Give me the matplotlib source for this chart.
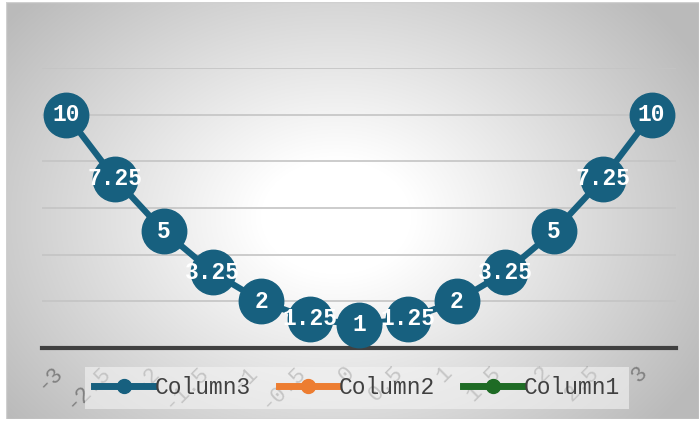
import numpy as np
import matplotlib
matplotlib.use("Agg")
import matplotlib.pyplot as plt
from matplotlib.lines import Line2D

categories = ['-3', '-2.5', '-2', '-1.5', '-1', '-0.5', '0', '0.5', '1', '1.5', '2', '2.5', '3']
column3 = [10, 7.25, 5, 3.25, 2, 1.25, 1, 1.25, 2, 3.25, 5, 7.25, 10]
series_names = ['Column3', 'Column2', 'Column1']
series_colors = ['#17607F', '#ED7D31', '#1E6B25']

plt.rcParams['axes.unicode_minus'] = False
MONO = 'Liberation Mono'

W, H = 699, 421
fig = plt.figure(figsize=(W / 100, H / 100), dpi=100)
fig.patch.set_facecolor('white')

# radial gradient background
bg = fig.add_axes([6 / W, 2 / H, 693 / W, 417 / H], zorder=-10)
bg.set_axis_off()
yy, xx = np.mgrid[0:417, 0:693]
cx, cy = 330, 215
d = np.sqrt(((xx - cx) / 420.0) ** 2 + ((yy - cy) / 320.0) ** 2)
d = np.clip(d, 0, 1)
val = 1.0 - 0.27 * np.clip((d - 0.18) / 0.82, 0, 1) ** 1.0
img = np.dstack([val, val, val])
bg.imshow(img, aspect='auto', extent=[0, 1, 0, 1], origin='upper')
bg.add_patch(plt.Rectangle((0, 0), 1, 1, transform=bg.transAxes, fill=False,
                           edgecolor='#d0d0d0', lw=1.0))

ax = fig.add_axes([42 / W, (H - 348) / H, (676 - 42) / W, (348 - 68) / H])
ax.set_facecolor('none')
x = np.arange(len(categories))
ax.set_xlim(-0.5, len(categories) - 0.5)
ax.set_ylim(0, 12)
ax.set_yticks([2, 4, 6, 8, 10, 12])
ax.yaxis.grid(True, color='#c4c4c4', lw=1.2)
ax.set_axisbelow(True)
ax.tick_params(axis='y', left=False, labelleft=False)
for s in ['left', 'right', 'top']:
    ax.spines[s].set_visible(False)
ax.spines['bottom'].set_color('#404040')
ax.spines['bottom'].set_linewidth(3)
ax.spines['bottom'].set_zorder(1)

ax.set_xticks(x)
ax.set_xticklabels(categories, rotation=45, ha='right', va='top',
                   family=MONO, fontsize=16, color='#808080')
ax.tick_params(axis='x', length=0, pad=10)

ax.plot(x, column3, color=series_colors[0], lw=4.5, marker='o', markersize=32,
        zorder=3, clip_on=False)
for xi, v in zip(x, column3):
    ax.text(xi, v, f'{v:g}', ha='center', va='center', color='white',
            family=MONO, fontweight='bold', fontsize=16.5, zorder=4)

handles = [Line2D([0], [0], color=c, lw=5, marker='o', markersize=10)
           for c in series_colors]
leg = ax.legend(handles, series_names, loc='center', ncol=3,
                bbox_to_anchor=(357 / W, (H - 388) / H), bbox_transform=fig.transFigure,
                prop={'family': MONO, 'size': 16.5}, labelcolor='#404040',
                handlelength=2.6, handletextpad=0.05, columnspacing=1.2,
                frameon=True, fancybox=False, borderpad=0.4)
leg.get_frame().set_facecolor('#f4f4f4')
leg.get_frame().set_alpha(0.6)
leg.get_frame().set_edgecolor('none')

fig.savefig('out.png', dpi=100)
